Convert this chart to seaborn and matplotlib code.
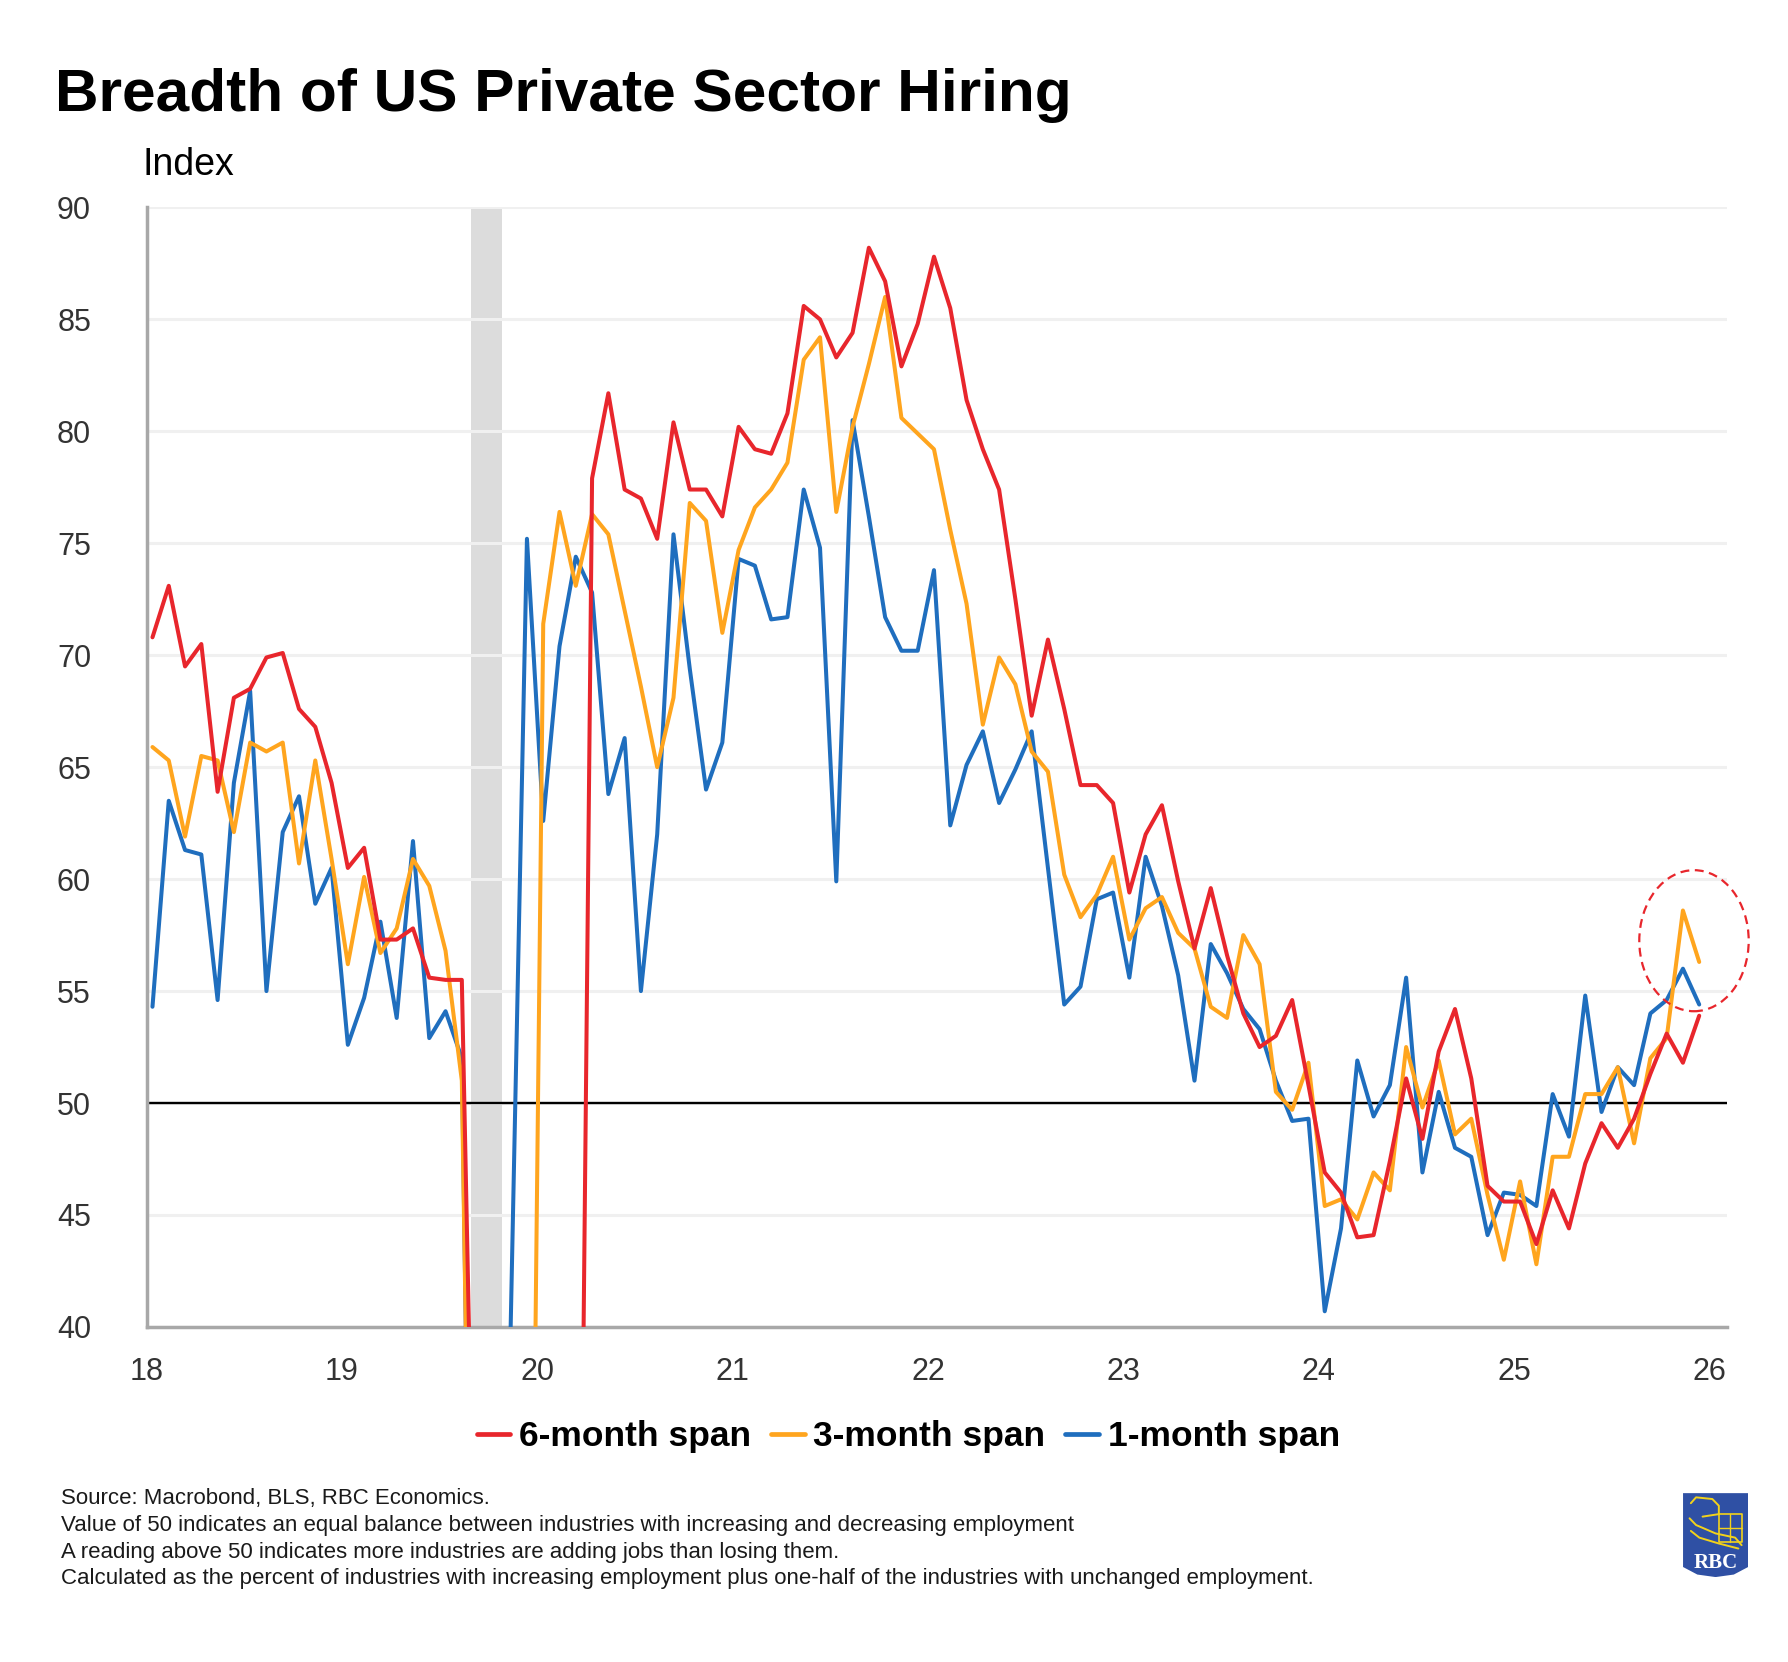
import numpy as np
import pandas as pd
import matplotlib.pyplot as plt
import seaborn as sns
from matplotlib.patches import Ellipse, Polygon
from matplotlib.lines import Line2D

# monthly readings, values below 40 fall off the bottom of the chart
six_month = [70.8, 73.1, 69.5, 70.5, 63.9, 68.1, 68.5, 69.9, 70.1, 67.6,
             66.8, 64.3, 60.5, 61.4, 57.3, 57.3, 57.8, 55.6, 55.5, 55.5,
             20.0, 5.0, 4.0, 5.0, 5.0, 6.0, 5.0, 77.9, 81.7, 77.4,
             77.0, 75.2, 80.4, 77.4, 77.4, 76.2, 80.2, 79.2, 79.0, 80.8,
             85.6, 85.0, 83.3, 84.4, 88.2, 86.7, 82.9, 84.8, 87.8, 85.5,
             81.4, 79.2, 77.4, 72.5, 67.3, 70.7, 67.6, 64.2, 64.2, 63.4,
             59.4, 62.0, 63.3, 59.9, 56.9, 59.6, 56.6, 54.0, 52.5, 53.0,
             54.6, 50.8, 46.9, 46.0, 44.0, 44.1, 47.4, 51.1, 48.4, 52.3,
             54.2, 51.1, 46.3, 45.6, 45.6, 43.7, 46.1, 44.4, 47.3, 49.1,
             48.0, 49.3, 51.3, 53.1, 51.8, 53.9]

three_month = [65.9, 65.3, 61.9, 65.5, 65.3, 62.1, 66.1, 65.7, 66.1, 60.7,
               65.3, 60.9, 56.2, 60.1, 56.7, 57.8, 60.9, 59.7, 56.8, 51.0,
               5.0, 3.0, 8.0, 5.0, 71.4, 76.4, 73.1, 76.3, 75.4, 72.0,
               68.6, 65.0, 68.1, 76.8, 76.0, 71.0, 74.7, 76.6, 77.4, 78.6,
               83.2, 84.2, 76.4, 80.2, 83.0, 86.0, 80.6, 79.9, 79.2, 75.6,
               72.3, 66.9, 69.9, 68.7, 65.7, 64.8, 60.2, 58.3, 59.3, 61.0,
               57.3, 58.7, 59.2, 57.6, 56.9, 54.3, 53.8, 57.5, 56.2, 50.5,
               49.7, 51.8, 45.4, 45.7, 44.8, 46.9, 46.1, 52.5, 49.8, 51.9,
               48.6, 49.3, 45.9, 43.0, 46.5, 42.8, 47.6, 47.6, 50.4, 50.4,
               51.6, 48.2, 52.0, 52.9, 58.6, 56.3]

one_month = [54.3, 63.5, 61.3, 61.1, 54.6, 64.3, 68.4, 55.0, 62.1, 63.7,
             58.9, 60.5, 52.6, 54.7, 58.1, 53.8, 61.7, 52.9, 54.1, 52.0,
             3.0, 10.0, 40.0, 75.2, 62.6, 70.4, 74.4, 72.8, 63.8, 66.3,
             55.0, 62.0, 75.4, 69.4, 64.0, 66.1, 74.3, 74.0, 71.6, 71.7,
             77.4, 74.8, 59.9, 80.5, 76.2, 71.7, 70.2, 70.2, 73.8, 62.4,
             65.1, 66.6, 63.4, 64.9, 66.6, 60.5, 54.4, 55.2, 59.1, 59.4,
             55.6, 61.0, 58.8, 55.7, 51.0, 57.1, 55.8, 54.2, 53.3, 51.0,
             49.2, 49.3, 40.7, 44.4, 51.9, 49.4, 50.8, 55.6, 46.9, 50.5,
             48.0, 47.6, 44.1, 46.0, 45.9, 45.4, 50.4, 48.5, 54.8, 49.6,
             51.6, 50.8, 54.0, 54.6, 56.0, 54.4]

span_names = ["6-month span", "3-month span", "1-month span"]
span_colors = ["#E8262C", "#FFA51E", "#1F6EBE"]
year_labels = ["18", "19", "20", "21", "22", "23", "24", "25", "26"]
recession = (19.66, 19.82)

footnotes = [
    "Source: Macrobond, BLS, RBC Economics.",
    "Value of 50 indicates an equal balance between industries with increasing and decreasing employment",
    "A reading above 50 indicates more industries are adding jobs than losing them.",
    "Calculated as the percent of industries with increasing employment plus one-half of the industries with unchanged employment.",
]

months = np.arange(len(six_month))
x_pos = 18.03 + months / 12

df = pd.DataFrame({
    "x": np.tile(x_pos, 3),
    "value": six_month + three_month + one_month,
    "span": np.repeat(span_names, len(months)),
})

sns.set_style("white")
plt.rcParams["font.family"] = ["Liberation Sans", "DejaVu Sans"]

fig = plt.figure(figsize=(17.88, 16.62), dpi=100)
ax = fig.add_axes([0.082, 0.2016, 0.884, 0.6736])

ax.axvspan(*recession, color="#dcdcdc", lw=0, zorder=0)
ax.axhline(50, color="black", lw=1.7, zorder=1)

palette = dict(zip(span_names, span_colors))
sns.lineplot(data=df, x="x", y="value", hue="span", hue_order=span_names[::-1],
             palette=palette, estimator=None, sort=False, linewidth=2.9,
             legend=False, ax=ax, zorder=3)

# dashed ring around the latest readings
ax.add_patch(Ellipse((25.92, 57.25), 0.56, 6.3, fill=False, ec=span_colors[0],
                     lw=1.6, ls=(0, (4, 2.5)), clip_on=False, zorder=4))

ax.set_xlim(18.0, 26.09)
ax.set_ylim(40, 90)
ax.set_xlabel("")
ax.set_ylabel("")

ax.set_yticks(range(40, 91, 5))
ax.yaxis.grid(True, color="#f0f0f0", lw=2.2)
ax.xaxis.grid(False)
ax.set_axisbelow(True)

ax.set_xticks(range(18, 27))
ax.set_xticklabels(year_labels)
ax.set_xticks(np.arange(18.5, 26, 1), minor=True)

ax.tick_params(axis="x", which="major", length=0, pad=22, labelsize=22, labelcolor="#333333")
ax.tick_params(axis="x", which="minor", length=11, width=1.6, color="#333333", direction="out")
ax.tick_params(axis="y", length=9, width=2, color="#a0a0a0", pad=31, labelsize=22, labelcolor="#333333")

for side in ["top", "right"]:
    ax.spines[side].set_visible(False)
for side in ["left", "bottom"]:
    ax.spines[side].set_color("#a8a8a8")
    ax.spines[side].set_linewidth(2.5)

fig.text(0.0308, 0.933, "Breadth of US Private Sector Hiring", fontsize=43.5,
         weight="bold", color="black", va="baseline", ha="left")
fig.text(0.0795, 0.8947, "Index", fontsize=27, color="black", va="baseline", ha="left")

handles = [Line2D([], [], color=c, lw=3.4) for c in span_colors]
leg = fig.legend(handles, span_names, loc="center", bbox_to_anchor=(0.508, 0.1355),
                 ncol=3, frameon=False, prop={"weight": "bold", "size": 25.5},
                 handlelength=0.95, handletextpad=0.25, columnspacing=0.55)
for t in leg.get_texts():
    t.set_color("black")

for i, line in enumerate(footnotes):
    fig.text(0.034, 0.0950 - i * 0.0161, line, fontsize=16, color="#1a1a1a",
             va="baseline", ha="left")

# RBC logo
lax = fig.add_axes([0.9413, 0.0511, 0.0364, 0.0505])
lax.set_xlim(0, 1)
lax.set_ylim(0, 1)
lax.axis("off")
lax.add_patch(Polygon([(0.0, 1.0), (1.0, 1.0), (1.0, 0.12), (0.78, 0.03), (0.5, 0.0),
                       (0.22, 0.03), (0.0, 0.12)], closed=True, fc="#2F50A4", ec="none"))
yellow = "#F2D21B"
lax.plot([0.12, 0.2, 0.45, 0.55, 0.55, 0.3], [0.88, 0.95, 0.93, 0.85, 0.75, 0.72], color=yellow, lw=1.4)
lax.plot([0.1, 0.2, 0.5, 0.8, 0.9], [0.7, 0.62, 0.52, 0.47, 0.38], color=yellow, lw=1.4)
lax.plot([0.12, 0.25, 0.55, 0.85], [0.55, 0.47, 0.4, 0.34], color=yellow, lw=1.4)
lax.plot([0.55, 0.9, 0.9, 0.55, 0.55], [0.75, 0.75, 0.42, 0.42, 0.75], color=yellow, lw=1.2)
lax.plot([0.72, 0.72], [0.42, 0.75], color=yellow, lw=1.0)
lax.plot([0.55, 0.9], [0.58, 0.58], color=yellow, lw=1.0)
lax.text(0.5, 0.17, "RBC", color="white", fontsize=15, weight="bold",
         family=["Liberation Serif", "DejaVu Serif"], ha="center", va="center")

fig.savefig("out.png", dpi=100)
